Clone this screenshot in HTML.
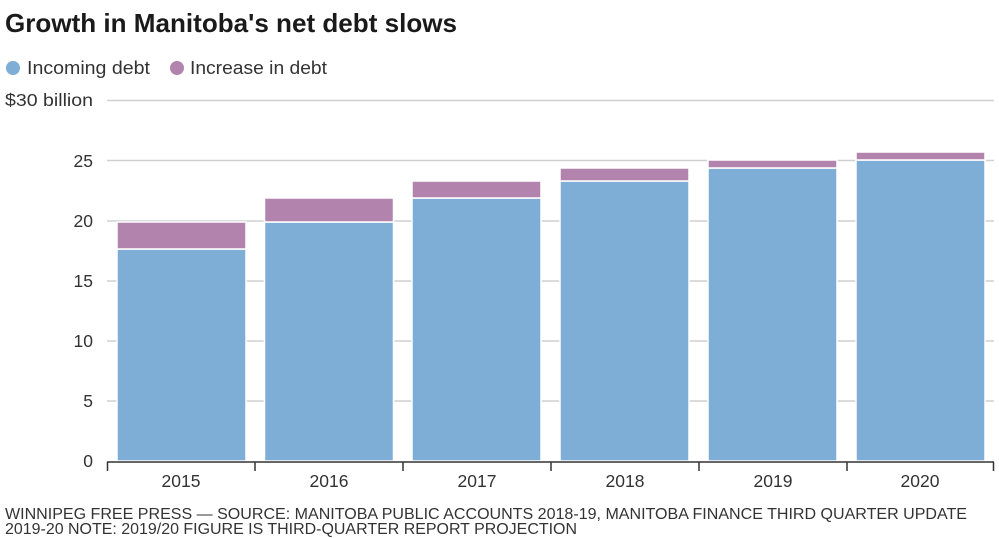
<!DOCTYPE html>
<html><head><meta charset="utf-8"><style>
html,body{margin:0;padding:0;background:#fff;}
svg{display:block;font-family:"Liberation Sans",sans-serif;}
</style></head><body>
<svg width="999" height="538" viewBox="0 0 999 538">
<text x="5" y="32" font-size="26" font-weight="bold" fill="#1a1a1a" textLength="452" lengthAdjust="spacingAndGlyphs">Growth in Manitoba's net debt slows</text>
<circle cx="13" cy="68" r="7" fill="#7eaed6"/>
<text x="27" y="74" font-size="18" fill="#333" textLength="123" lengthAdjust="spacingAndGlyphs">Incoming debt</text>
<circle cx="177" cy="68" r="7" fill="#b183ad"/>
<text x="190" y="74" font-size="18" fill="#333" textLength="137" lengthAdjust="spacingAndGlyphs">Increase in debt</text>
<g stroke="#d0d0d0" stroke-width="1.5">
<line x1="107" x2="994" y1="100.5" y2="100.5"/>
<line x1="107" x2="994" y1="160.5" y2="160.5"/>
<line x1="107" x2="994" y1="221" y2="221"/>
<line x1="107" x2="994" y1="281" y2="281"/>
<line x1="107" x2="994" y1="341" y2="341"/>
<line x1="107" x2="994" y1="401" y2="401"/>
</g>
<g font-size="17.5" fill="#333" text-anchor="end">
<text x="93" y="106" textLength="88" lengthAdjust="spacingAndGlyphs">$30 billion</text>
<text x="93" y="167">25</text>
<text x="93" y="227">20</text>
<text x="93" y="287">15</text>
<text x="93" y="347">10</text>
<text x="93" y="407">5</text>
<text x="93" y="467">0</text>
</g>
<g stroke="#fff" stroke-width="1.5">
<rect x="117" y="249" width="129" height="212" fill="#7eaed6"/>
<rect x="117" y="222" width="129" height="27" fill="#b183ad"/>
<rect x="264.5" y="198" width="129" height="263" fill="#7eaed6"/>
<rect x="264.5" y="198" width="129" height="0" fill="#b183ad"/>
<rect x="264.5" y="222" width="129" height="239" fill="#7eaed6"/>
<rect x="264.5" y="198" width="129" height="24" fill="#b183ad"/>
<rect x="412" y="198" width="129" height="263" fill="#7eaed6"/>
<rect x="412" y="181" width="129" height="17" fill="#b183ad"/>
<rect x="560" y="181" width="129" height="280" fill="#7eaed6"/>
<rect x="560" y="168" width="129" height="13" fill="#b183ad"/>
<rect x="708" y="168" width="129" height="293" fill="#7eaed6"/>
<rect x="708" y="160" width="129" height="8" fill="#b183ad"/>
<rect x="856" y="160" width="129" height="301" fill="#7eaed6"/>
<rect x="856" y="152" width="129" height="8" fill="#b183ad"/>
</g>
<g stroke="#333" stroke-width="1.5">
<line x1="107" x2="994" y1="462" y2="462"/>
<line x1="107.5" x2="107.5" y1="462" y2="471"/>
<line x1="255" x2="255" y1="462" y2="471"/>
<line x1="403" x2="403" y1="462" y2="471"/>
<line x1="551" x2="551" y1="462" y2="471"/>
<line x1="699" x2="699" y1="462" y2="471"/>
<line x1="847" x2="847" y1="462" y2="471"/>
<line x1="993.5" x2="993.5" y1="462" y2="471"/>
</g>
<g font-size="17.5" fill="#333" text-anchor="middle">
<text x="181" y="487">2015</text>
<text x="329" y="487">2016</text>
<text x="477" y="487">2017</text>
<text x="625" y="487">2018</text>
<text x="773" y="487">2019</text>
<text x="920" y="487">2020</text>
</g>
<text x="5" y="519" font-size="15.5" fill="#333" textLength="962" lengthAdjust="spacingAndGlyphs">WINNIPEG FREE PRESS — SOURCE: MANITOBA PUBLIC ACCOUNTS 2018-19, MANITOBA FINANCE THIRD QUARTER UPDATE</text>
<text x="5" y="534" font-size="15.5" fill="#333" textLength="572" lengthAdjust="spacingAndGlyphs">2019-20 NOTE: 2019/20 FIGURE IS THIRD-QUARTER REPORT PROJECTION</text>
</svg>
</body></html>
